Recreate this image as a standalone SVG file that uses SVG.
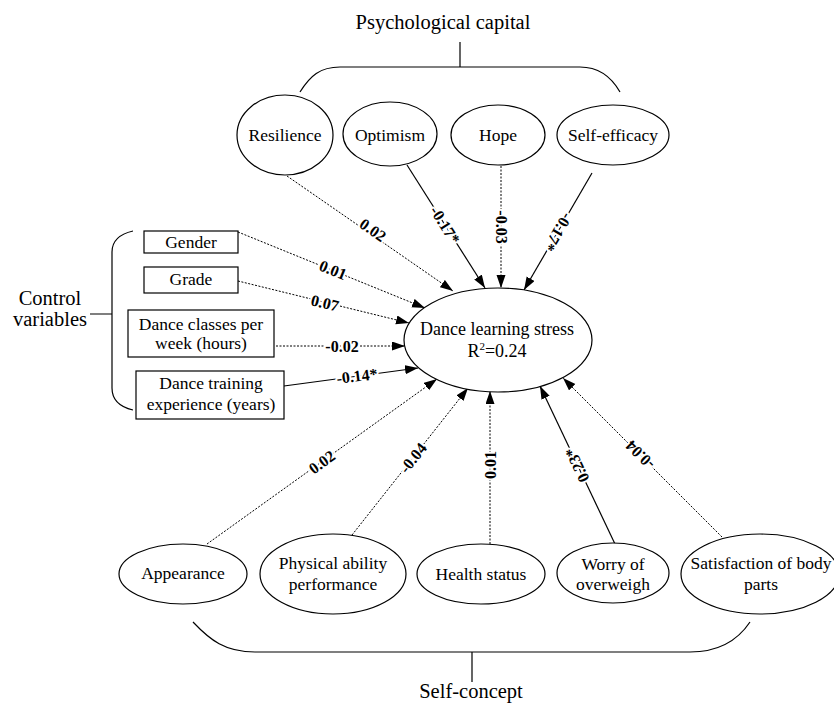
<svg xmlns="http://www.w3.org/2000/svg" width="834" height="704" viewBox="0 0 834 704" font-family="'Liberation Serif', 'DejaVu Serif', serif">
<style>
.nd{fill:#fff;stroke:#000;stroke-width:1.2}
.t{font-size:17.5px;fill:#000;text-anchor:middle}
.big{font-size:20.5px;fill:#000;text-anchor:middle}
.br{fill:none;stroke:#000;stroke-width:1.2}
.solid{fill:none;stroke:#000;stroke-width:1.2}
.dot{fill:none;stroke:#000;stroke-width:1;stroke-dasharray:2 1.5}
.lb{font-size:16px;font-weight:bold;fill:#000;text-anchor:middle;dominant-baseline:central;stroke:#fff;stroke-width:4;paint-order:stroke;stroke-linejoin:round}
</style>
<defs>
<marker id="ah" markerUnits="userSpaceOnUse" markerWidth="14" markerHeight="10" refX="13" refY="4.5" orient="auto">
<path d="M0,0 L13,4.5 L0,9 z" fill="#000"/>
</marker>
</defs>
<rect width="834" height="704" fill="#fff"/>

<g id="brackets">
<text class="big" x="443" y="29">Psychological capital</text>
<path class="br" d="M460,42 L460,67 M300,92 C310,76 320,67 340,67 L580,67 C600,67 612,78 620,92"/>
<text class="big" x="50" y="305">Control</text>
<text class="big" x="50" y="326">variables</text>
<path class="br" d="M90,314 L112,314 M133,231 C120,234 112,240 112,252 L112,388 C112,400 120,407 133,410"/>
<text class="big" x="471" y="698">Self-concept</text>
<path class="br" d="M472,652 L472,682 M193,622 C210,640 225,652 255,652 L690,652 C720,652 738,640 750,622"/>
</g>

<g id="connectors">
<line class="dot" x1="287" y1="176" x2="453" y2="291" marker-end="url(#ah)"/>
<line class="solid" x1="407" y1="165" x2="485" y2="288" marker-end="url(#ah)"/>
<line class="dot" x1="501" y1="166" x2="501" y2="288" marker-end="url(#ah)"/>
<line class="solid" x1="592" y1="173" x2="524" y2="290" marker-end="url(#ah)"/>
<line class="dot" x1="238" y1="232" x2="425" y2="308" marker-end="url(#ah)"/>
<line class="dot" x1="238" y1="281" x2="409" y2="323" marker-end="url(#ah)"/>
<line class="dot" x1="276" y1="346" x2="405" y2="346" marker-end="url(#ah)"/>
<line class="solid" x1="284" y1="386" x2="418" y2="368" marker-end="url(#ah)"/>
<line class="dot" x1="207" y1="544" x2="437" y2="379" marker-end="url(#ah)"/>
<line class="dot" x1="352" y1="535" x2="468" y2="388" marker-end="url(#ah)"/>
<line class="dot" x1="490" y1="544" x2="490" y2="391" marker-end="url(#ah)"/>
<line class="solid" x1="615" y1="544" x2="540" y2="386" marker-end="url(#ah)"/>
<line class="dot" x1="722" y1="537" x2="563" y2="378" marker-end="url(#ah)"/>

<text class="lb" transform="translate(373,230) rotate(34.7)">0.02</text>
<text class="lb" transform="translate(445,225) rotate(57.6)">-0.17*</text>
<text class="lb" transform="translate(501,227) rotate(90)">-0.03</text>
<text class="lb" transform="translate(558,232) rotate(120.2)">-0.17*</text>
<text class="lb" transform="translate(333,270) rotate(22.1)">0.01</text>
<text class="lb" transform="translate(325,303) rotate(13.8)">0.07</text>
<text class="lb" transform="translate(342,346)">-0.02</text>
<text class="lb" transform="translate(357,376) rotate(-7)">-0.14*</text>
<text class="lb" transform="translate(322,462) rotate(-35.7)">0.02</text>
<text class="lb" transform="translate(413,458) rotate(-51.7)">-0.04</text>
<text class="lb" transform="translate(490,465) rotate(-90)">0.01</text>
<text class="lb" transform="translate(577,465) rotate(-115.4)">0.23*</text>
<text class="lb" transform="translate(640,455) rotate(-135)">-0.04</text>
</g>

<g id="resilience"><ellipse class="nd" cx="285" cy="135" rx="48" ry="40"/><text class="t" x="285" y="141">Resilience</text></g>
<g id="optimism"><ellipse class="nd" cx="390" cy="134" rx="47" ry="32"/><text class="t" x="390" y="141">Optimism</text></g>
<g id="hope"><ellipse class="nd" cx="498" cy="135" rx="47" ry="30"/><text class="t" x="498" y="141">Hope</text></g>
<g id="selfefficacy"><ellipse class="nd" cx="613" cy="135" rx="56" ry="30"/><text class="t" x="613" y="141">Self-efficacy</text></g>

<g id="stress"><ellipse class="nd" cx="498" cy="340" rx="94" ry="52"/>
<text class="t" style="font-size:18px" x="497" y="335">Dance learning stress</text>
<text class="t" style="font-size:18px" x="497" y="357">R<tspan font-size="11" dy="-7">2</tspan><tspan dy="7">=0.24</tspan></text></g>

<g id="gender"><rect class="nd" x="144" y="231" width="94" height="22"/><text class="t" x="191" y="248">Gender</text></g>
<g id="grade"><rect class="nd" x="144" y="267" width="94" height="26"/><text class="t" x="191" y="285">Grade</text></g>
<g id="classes"><rect class="nd" x="128" y="310" width="146" height="47"/><text class="t" x="201" y="330">Dance classes per</text><text class="t" x="201" y="349">week (hours)</text></g>
<g id="training"><rect class="nd" x="136" y="371" width="148" height="48"/><text class="t" x="211" y="389">Dance training</text><text class="t" x="211" y="410">experience (years)</text></g>

<g id="appearance"><ellipse class="nd" cx="183" cy="574" rx="64" ry="30"/><text class="t" x="183" y="579">Appearance</text></g>
<g id="physical"><ellipse class="nd" cx="333" cy="574" rx="73" ry="40"/><text class="t" x="333" y="569">Physical ability</text><text class="t" x="333" y="590">performance</text></g>
<g id="health"><ellipse class="nd" cx="481" cy="574" rx="64" ry="30"/><text class="t" x="481" y="580">Health status</text></g>
<g id="worry"><ellipse class="nd" cx="613" cy="573" rx="56" ry="30"/><text class="t" x="613" y="570">Worry of</text><text class="t" x="613" y="590">overweigh</text></g>
<g id="satisfaction"><ellipse class="nd" cx="760" cy="574" rx="79" ry="40"/><text class="t" x="761" y="569">Satisfaction of body</text><text class="t" x="761" y="590">parts</text></g>
</svg>
